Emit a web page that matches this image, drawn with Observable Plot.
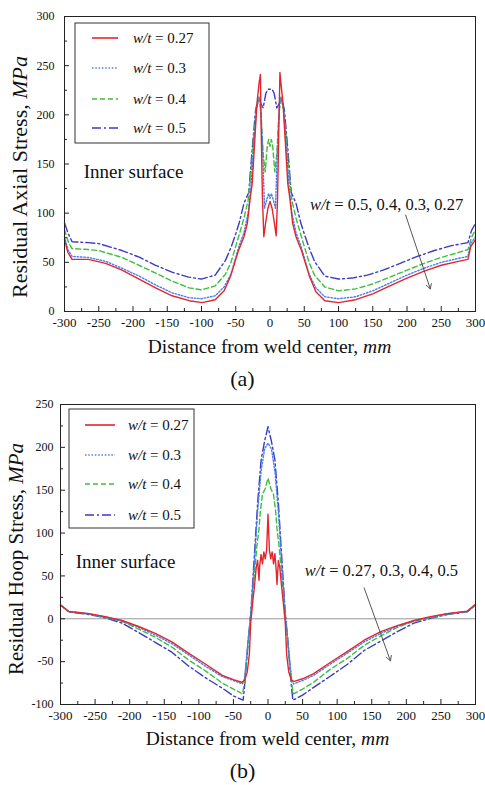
<!DOCTYPE html>
<html><head><meta charset="utf-8">
<script src="https://cdn.jsdelivr.net/npm/d3@7"></script>
<script src="https://cdn.jsdelivr.net/npm/@observablehq/plot@0.6"></script>
<style>
body{margin:0;background:#fff;font-family:"Liberation Serif","Times New Roman",serif;}
#wrap{position:relative;width:485px;height:785px;overflow:hidden;}
#wrap svg{position:absolute;left:0;}
.cap{position:absolute;left:0;width:485px;text-align:center;font-size:22px;line-height:30px;color:#111;}
</style></head><body><div id="wrap"></div>
<script>
// ---------- series definitions ----------
const seriesNames = ["0.27", "0.3", "0.4", "0.5"];
const seriesColors = ["#e3262e", "#4a7df0", "#3cbf3c", "#3a3ac4"];
const seriesDash = [null, "1.5,1.8", "5,3", "9,3,2,3"];

// ---------- panel (a): residual axial stress, inner surface ----------
const axial027 = [[-300,73],[-295,60],[-289,53],[-265,53],[-240,49],[-216,42],[-191,33],[-167,24],[-143,16],[-118,11],[-99,9],[-80,12],[-67,21],[-58,35],[-46,62],[-38,76],[-33,90],[-29,115],[-26,130],[-23,165],[-19,212],[-16,232],[-14,241],[-13,190],[-11,115],[-9,76],[-6,92],[-3,105],[0,112],[3,105],[6,92],[9,77],[11,115],[13,190],[14.5,243],[16,232],[19,212],[23,165],[26,130],[29,115],[33,90],[38,76],[46,62],[58,35],[67,20],[80,11],[100,9],[125,12],[150,18],[175,26],[200,34],[225,41],[250,47],[275,51],[289,53],[293,66],[300,73]];
const axial03 = [[-300,76],[-295,63],[-289,56],[-265,55],[-240,51],[-216,44],[-191,36],[-167,27],[-143,19],[-118,14],[-100,13],[-80,16],[-67,25],[-57,38],[-45,67],[-38,80],[-32,100],[-28,125],[-24,165],[-20,205],[-16,218],[-14,212],[-11,170],[-8,105],[-5,113],[-2,120],[0,115],[2,120],[5,113],[8,105],[11,170],[14,212],[16,218],[20,205],[24,165],[28,125],[32,100],[38,80],[45,67],[57,38],[67,24],[80,15],[100,13],[125,15],[150,21],[175,29],[200,37],[225,44],[250,50],[275,54],[289,56],[293,69],[300,76]];
const axial04 = [[-300,83],[-294,70],[-289,64],[-265,63],[-250,62],[-216,55],[-191,47],[-167,39],[-143,31],[-118,24],[-100,22],[-80,26],[-65,38],[-57,50],[-45,78],[-38,95],[-32,113],[-28,140],[-24,175],[-20,205],[-16,218],[-13,200],[-10,160],[-7,142],[-4,168],[-2,175],[0,168],[2,175],[4,168],[7,142],[10,160],[13,200],[16,218],[20,205],[24,175],[28,140],[32,113],[38,95],[45,78],[57,50],[65,37],[80,25],[100,21],[125,23],[150,28],[175,35],[200,42],[225,49],[250,55],[275,60],[289,63],[294,75],[300,83]];
const axial05 = [[-300,90],[-295,80],[-289,71],[-265,70],[-250,69],[-216,62],[-190,55],[-167,47],[-143,40],[-119,35],[-100,33],[-80,37],[-65,52],[-57,65],[-50,79],[-45,90],[-38,110],[-31,121],[-26,165],[-21,205],[-17,217],[-13,211],[-10,207],[-6,222],[-3,226],[0,226],[3,226],[6,222],[10,207],[13,211],[17,217],[21,205],[26,165],[31,121],[38,110],[45,90],[50,79],[57,65],[65,51],[80,36],[100,33],[120,34],[142,37],[165,42],[190,49],[215,56],[240,62],[265,67],[289,70],[294,82],[300,90]];

// ---------- panel (b): residual hoop stress, inner surface ----------
const hoop027 = [[-300,16],[-288,8.5],[-259,6],[-235,2.5],[-211,-2],[-187,-9],[-163,-17],[-139,-27],[-115,-40],[-90,-53],[-66,-66],[-50,-71],[-38,-74],[-34,-72],[-30,-62],[-27,-42],[-25,-5],[-22,20],[-20,35],[-17,60],[-15,68],[-13,45],[-12,62],[-10,75],[-8,64],[-6,78],[-4,70],[-2,80],[0,122],[2,80],[4,70],[6,78],[8,64],[10,76],[12,55],[13,40],[15,68],[17,60],[20,35],[22,20],[25,-5],[27,-42],[30,-62],[34,-72],[38,-73],[50,-70],[66,-64],[90,-51],[115,-38],[139,-25],[163,-15],[187,-8],[211,-2],[235,2.5],[259,6],[288,9],[300,17]];
const hoop03 = [[-300,16],[-288,8.5],[-259,6],[-235,2],[-211,-2.5],[-187,-10],[-163,-19],[-139,-29],[-115,-42],[-90,-55.5],[-66,-67.5],[-50,-72],[-37,-76],[-34,-70],[-31,-45],[-28,-18],[-25,5],[-20,62],[-15,125],[-10,172],[-5,198],[0,205],[5,198],[10,172],[15,125],[20,62],[25,5],[28,-18],[31,-45],[34,-70],[37,-76],[50,-72],[66,-66],[90,-53],[115,-40],[139,-27],[163,-17],[187,-9],[211,-2.5],[235,2],[259,6],[288,8.5],[300,16]];
const hoop04 = [[-300,16],[-288,8.5],[-259,5.5],[-235,1.5],[-211,-3],[-187,-12],[-163,-21.5],[-139,-33],[-115,-48],[-90,-61],[-66,-75],[-50,-82],[-37,-87.5],[-34,-75],[-31,-48],[-28,-20],[-25,5],[-20,50],[-16,85],[-13,105],[-11,126],[-8,145],[-4,152],[0,164],[4,152],[8,145],[11,126],[13,105],[16,85],[20,50],[25,5],[28,-20],[31,-48],[34,-75],[37,-87.5],[50,-82],[66,-74],[90,-59],[115,-46],[139,-31],[163,-20],[187,-10],[211,-3],[235,1],[259,5.5],[288,8.5],[300,16]];
const hoop05 = [[-300,16],[-288,8],[-259,5],[-235,1],[-211,-5],[-187,-16],[-163,-27.5],[-139,-39],[-115,-55],[-90,-69],[-66,-81],[-50,-90],[-36,-95],[-34,-80],[-31,-50],[-28,-20],[-25,5],[-20,70],[-15,135],[-10,185],[-5,207],[0,224],[5,207],[10,185],[15,135],[20,70],[25,5],[28,-20],[31,-50],[34,-80],[36,-95],[50,-89],[66,-80],[90,-67],[115,-53],[139,-37],[163,-26],[187,-15],[211,-5],[235,0.5],[259,5],[288,8],[300,16]];

// ---------- text ----------
const legendLabels = seriesNames.map(s => " = " + s);
const annotA = {text: " = 0.5, 0.4, 0.3, 0.27", tx: 59, ty: 103, x1: 198, y1: 98, x2: 234, y2: 23};
const annotB = {text: " = 0.27, 0.3, 0.4, 0.5", tx: 54, ty: 49, x1: 139, y1: 36, x2: 177, y2: -49};
const surfaceLabel = "Inner surface";
const xTitle = "Distance from weld center, ";
const xTitleUnit = "mm";
const yTitleA = "Residual Axial Stress, ";
const yTitleB = "Residual Hoop Stress, ";
const yTitleUnit = "MPa";

const FONT = "Liberation Serif, Times New Roman, serif";

function toRows(arrs) {
  return arrs.flatMap((arr, i) => arr.map(([x, y]) => ({series: seriesNames[i], x, y, i})));
}

function panel(cfg) {
  const W = 485;
  const plotH = cfg.height - cfg.marginTop - cfg.marginBottom;
  const plotW = W - cfg.marginLeft - cfg.marginRight;
  const rows = toRows(cfg.series);
  const xMajor = d3.range(-300, 301, 50);
  const xMinor = d3.range(-275, 300, 50);
  const yMajor = d3.range(cfg.yDomain[0], cfg.yDomain[1] + 1, 50);
  const yMinor = d3.range(cfg.yDomain[0] + 25, cfg.yDomain[1], 50);
  const lineMarks = [3, 2, 1, 0].map(i => Plot.line(rows.filter(r => r.i === i), {
    x: "x", y: "y", stroke: seriesColors[i], strokeWidth: 1.4,
    strokeDasharray: seriesDash[i] || undefined
  }));
  const chart = Plot.plot({
    width: W, height: cfg.height,
    marginLeft: cfg.marginLeft, marginRight: cfg.marginRight,
    marginTop: cfg.marginTop, marginBottom: cfg.marginBottom,
    style: {fontFamily: FONT, background: "white", color: "#111"},
    x: {domain: [-300, 300]},
    y: {domain: cfg.yDomain},
    marks: [
      cfg.zeroLine ? Plot.ruleY([0], {stroke: "#999", strokeWidth: 1}) : null,
      ...lineMarks,
      Plot.ruleX(xMajor, {stroke: "#222", insetTop: plotH - 5}),
      Plot.ruleX(xMinor, {stroke: "#222", insetTop: plotH - 3}),
      Plot.ruleY(yMajor, {stroke: "#222", insetRight: plotW - 5}),
      Plot.ruleY(yMinor, {stroke: "#222", insetRight: plotW - 3}),
      Plot.frame({stroke: "#222", strokeWidth: 1}),
      Plot.axisX({ticks: xMajor, tickSize: 0, tickPadding: 6, tickFormat: d => String(d), fontSize: 13, label: null}),
      Plot.axisY({ticks: yMajor, tickSize: 0, tickPadding: cfg.yPad, tickFormat: d => String(d), fontSize: 12, label: null}),
      Plot.text([surfaceLabel], {x: cfg.surf[0], y: cfg.surf[1], text: d => d, textAnchor: "start", fontSize: 19, fill: "#111"}),
      Plot.arrow([cfg.annot], {x1: "x1", y1: "y1", x2: "x2", y2: "y2", stroke: "#444", strokeWidth: 0.9, headLength: 9})
    ]
  });
  const sx = chart.scale("x"), sy = chart.scale("y");
  const svg = d3.select(chart);
  function rich(x, y, parts, size, anchor, rotate) {
    const t = svg.append("text").attr("x", x).attr("y", y).attr("font-size", size)
      .attr("font-family", FONT).attr("fill", "#111").attr("text-anchor", anchor || "start");
    if (rotate) t.attr("transform", `rotate(-90,${x},${y})`);
    for (const [s, it] of parts) {
      const ts = t.append("tspan").text(s);
      if (it) ts.attr("font-style", "italic");
    }
  }
  // axis titles
  rich(cfg.marginLeft + plotW / 2, cfg.xTitleY, [[xTitle, false], [xTitleUnit, true]], 19.5, "middle");
  rich(cfg.yTitleX, cfg.yTitleY, [[cfg.yTitle, false], [yTitleUnit, true]], cfg.yTitleSize, "middle", true);
  // annotation text
  rich(sx.apply(cfg.annot.tx), sy.apply(cfg.annot.ty), [["w/t", true], [cfg.annot.text, false]], 16.5, "start");
  // legend
  const L = cfg.legend;
  svg.append("rect").attr("x", L.x).attr("y", L.y).attr("width", L.w).attr("height", L.h)
    .attr("fill", "white").attr("stroke", "#333").attr("stroke-width", 1);
  seriesNames.forEach((s, i) => {
    const yy = L.rows[i];
    const ln = svg.append("line").attr("x1", L.lx1).attr("x2", L.lx2).attr("y1", yy).attr("y2", yy)
      .attr("stroke", seriesColors[i]).attr("stroke-width", 1.6);
    if (seriesDash[i]) ln.attr("stroke-dasharray", seriesDash[i]);
    rich(L.tx, yy + 5, [["w/t", true], [legendLabels[i], false]], 15, "start");
  });
  return chart;
}

const wrap = document.getElementById("wrap");

const chartA = panel({
  series: [axial027, axial03, axial04, axial05],
  height: 362, marginTop: 16, marginBottom: 51, marginLeft: 64, marginRight: 10,
  yDomain: [0, 300], yPad: 10, zeroLine: false,
  surf: [-272, 142], annot: annotA,
  xTitleY: 353, yTitleX: 27, yTitleY: 177, yTitleSize: 22, yTitle: yTitleA,
  legend: {x: 75, y: 23, w: 134, h: 120, rows: [38, 68, 99, 128], lx1: 92, lx2: 118, tx: 133}
});
chartA.style.top = "0px";
wrap.appendChild(chartA);

const capA = document.createElement("div");
capA.className = "cap"; capA.style.top = "364px"; capA.textContent = "(a)";
wrap.appendChild(capA);

const chartB = panel({
  series: [hoop027, hoop03, hoop04, hoop05],
  height: 362, marginTop: 12, marginBottom: 50, marginLeft: 60, marginRight: 10,
  yDomain: [-100, 250], yPad: 7, zeroLine: true,
  surf: [-278, 66], annot: annotB,
  xTitleY: 353, yTitleX: 23, yTitleY: 167, yTitleSize: 21, yTitle: yTitleB,
  legend: {x: 69, y: 17, w: 125, h: 119, rows: [33, 63, 92, 123], lx1: 85, lx2: 115, tx: 128}
});
chartB.style.top = "392px";
wrap.appendChild(chartB);

const capB = document.createElement("div");
capB.className = "cap"; capB.style.top = "756px"; capB.textContent = "(b)";
wrap.appendChild(capB);
</script>
</body></html>
